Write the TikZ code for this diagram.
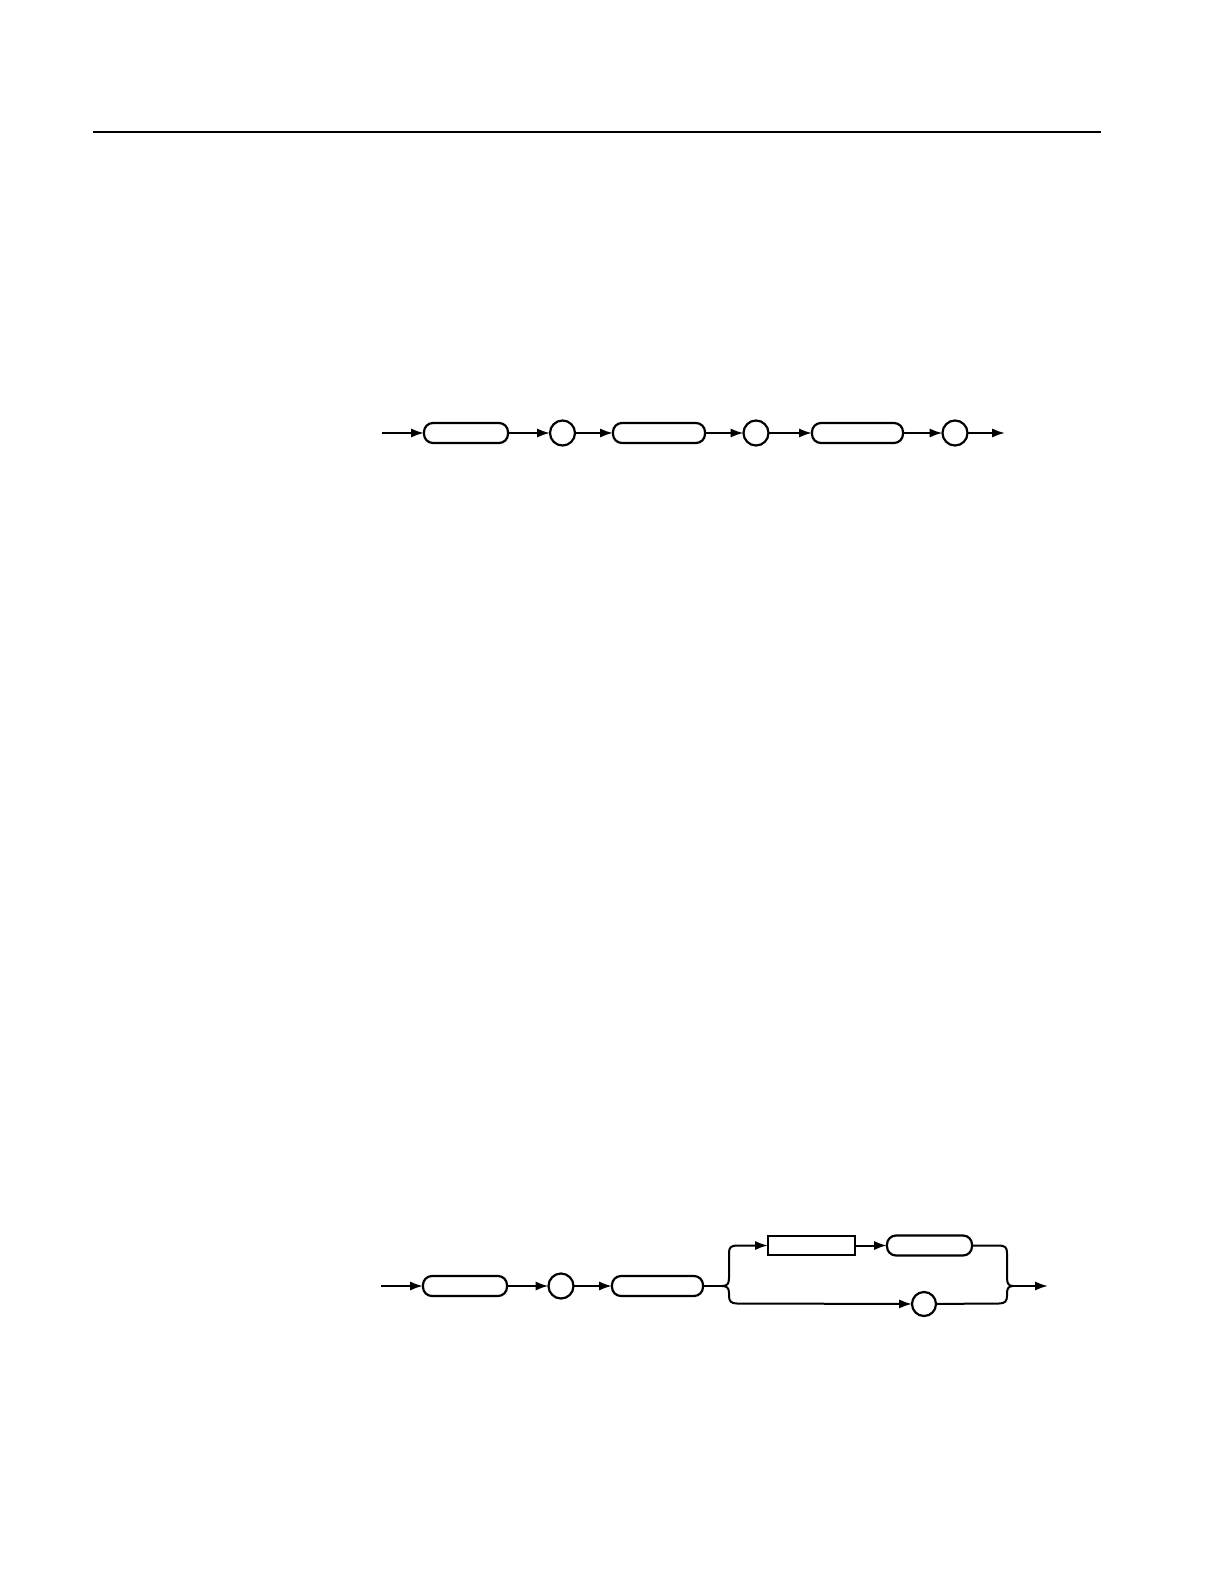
\documentclass[tikz,border=0pt]{standalone}
\usetikzlibrary{arrows.meta}
\begin{document}
\begin{tikzpicture}[x=0.5pt,y=-0.5pt,
  conn/.style={line width=1pt},
  arr/.style={conn,-{Latex[length=6.5pt,width=4.6pt]}},
  rbox/.style={draw,line width=1.1pt,rectangle,rounded corners=4.5pt,minimum height=10pt,inner sep=0pt,outer sep=0pt},
  sbox/.style={draw,line width=1.1pt,rectangle,minimum height=9.5pt,inner sep=0pt,outer sep=0pt},
  circ/.style={draw,line width=1.1pt,circle,minimum size=12.5pt,inner sep=0pt,outer sep=0pt}]
\useasboundingbox (0,0) rectangle (1224,1584);
% header rule
\coordinate (rl) at (93,132);
\coordinate (rr) at (1101,132);
\draw[line width=0.7pt] (rl) -- (rr);
% top diagram
\coordinate (s1) at (382,433);
\node[rbox,minimum width=42pt] (b1) at (466,433) {};
\node[circ] (c1) at (562.5,433) {};
\node[rbox,minimum width=46pt] (b2) at (659,433) {};
\node[circ] (c2) at (756,433) {};
\node[rbox,minimum width=45.5pt] (b3) at (857.5,433) {};
\node[circ] (c3) at (955,433) {};
\coordinate (e1) at (1005,433);
\draw[arr] (s1) -- (b1);
\draw[arr] (b1) -- (c1);
\draw[arr] (c1) -- (b2);
\draw[arr] (b2) -- (c2);
\draw[arr] (c2) -- (b3);
\draw[arr] (b3) -- (c3);
\draw[arr] (c3) -- (e1);
% bottom diagram
\coordinate (s2) at (381,1286);
\node[rbox,minimum width=42pt] (d1) at (465,1286) {};
\node[circ] (d2) at (561,1286) {};
\node[rbox,minimum width=45.5pt] (d3) at (657.5,1286) {};
\coordinate (jl) at (722,1286);
\node[sbox,minimum width=43.5pt] (r1) at (811.5,1245.5) {};
\node[rbox,minimum width=42.5pt] (r2) at (929.5,1245.5) {};
\node[circ,minimum size=12pt] (d4) at (924,1304) {};
\coordinate (jr) at (1013,1286);
\coordinate (e2) at (1048,1286);
\draw[arr] (s2) -- (d1);
\draw[arr] (d1) -- (d2);
\draw[arr] (d2) -- (d3);
\draw[conn] (d3) -- (jl);
% left brace
\draw[arr] (jl) .. controls (727,1286) and (729,1284) .. (729,1278) -- (729,1253)
  .. controls (729,1247.5) and (731,1245.5) .. (737,1245.5) -- (r1);
\draw[arr] (jl) .. controls (727,1286) and (729,1288) .. (729,1293) -- (729,1296)
  .. controls (729,1301) and (731,1303.5) .. (737,1303.5) -- (d4);
\draw[arr] (r1) -- (r2);
% right brace
\draw[conn] (r2) -- (999,1245.5) .. controls (1005,1245.5) and (1007,1247.5) .. (1007,1253)
  -- (1007,1278) .. controls (1007,1284) and (1009,1286) .. (jr);
\draw[conn] (d4) -- (999,1303.5) .. controls (1005,1303.5) and (1007,1301) .. (1007,1296)
  -- (1007,1293) .. controls (1007,1288) and (1009,1286) .. (jr);
\draw[arr] (jr) -- (e2);
\end{tikzpicture}
\end{document}
